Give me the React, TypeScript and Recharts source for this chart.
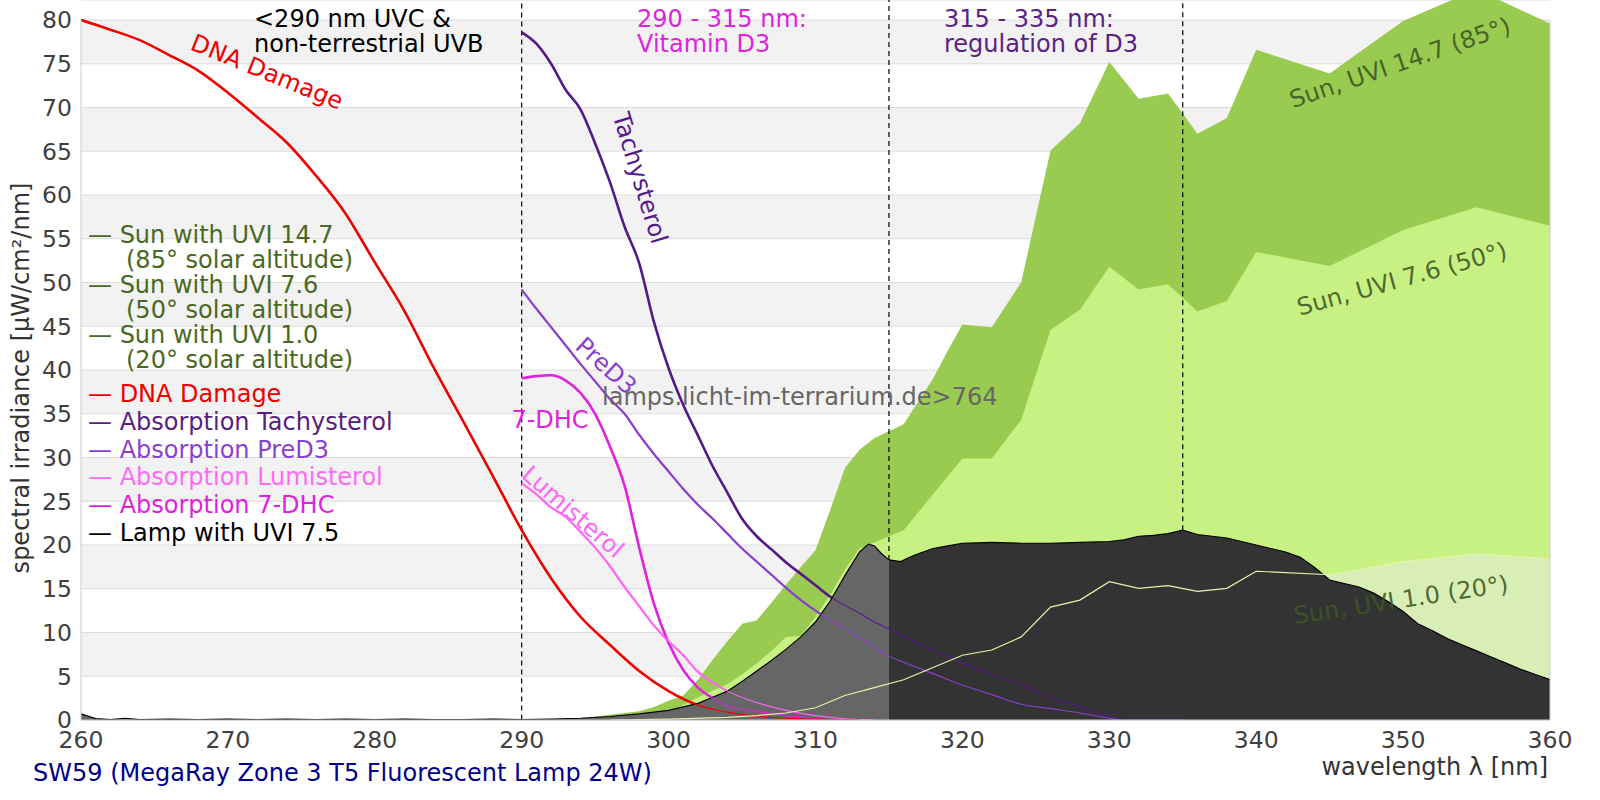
import React from 'react';
import { ComposedChart, Area, Line, XAxis, YAxis, CartesianGrid, ReferenceLine } from 'recharts';

const FONT = '"DejaVu Sans", sans-serif';

// wavelength [nm] / spectral irradiance [µW/cm²/nm]
const sun147Nm = [292, 294, 296, 298, 299, 300, 301, 302, 303, 304, 305, 306, 307, 308, 309, 310, 311, 312, 313, 314, 315, 316, 317, 318, 319, 320, 322, 324, 326, 328, 330, 332, 334, 336, 338, 340, 345, 350, 355, 360];
const sun147Val = [0, 0.2, 0.6, 1.0, 1.5, 2.2, 2.8, 4.6, 6.9, 9.0, 11.0, 11.4, 13.4, 15.5, 17.5, 19.4, 24.0, 28.8, 30.9, 32.2, 33.0, 33.8, 36.4, 39.0, 42.2, 45.2, 44.9, 50.0, 65.1, 68.2, 75.2, 71.0, 71.6, 67.0, 68.8, 76.6, 73.9, 79.9, 83.5, 79.6];

const sun76Nm = [294, 296, 298, 300, 302, 304, 305, 306, 307, 308, 309, 310, 311, 312, 313, 314, 315, 316, 318, 320, 322, 324, 326, 328, 330, 332, 334, 336, 338, 340, 345, 350, 355, 360];
const sun76Val = [0, 0.1, 0.3, 0.8, 2.6, 4.1, 5.2, 6.5, 7.9, 9.5, 9.6, 11.8, 14.3, 17.2, 19.6, 20.3, 21.0, 21.7, 25.8, 29.9, 29.9, 34.3, 44.6, 46.9, 51.8, 49.2, 49.8, 46.7, 47.9, 53.5, 51.9, 56.0, 58.6, 56.5];

const sun10Nm = [296, 300, 304, 306, 308, 310, 312, 314, 316, 318, 320, 322, 324, 326, 328, 330, 332, 334, 336, 338, 340, 345, 350, 355, 360];
const sun10Val = [0, 0.1, 0.3, 0.5, 0.8, 1.4, 2.8, 3.7, 4.6, 6.0, 7.4, 8.0, 9.5, 12.9, 13.7, 15.8, 15.05, 15.35, 14.7, 15.05, 17.0, 16.6, 18.1, 19.0, 18.4];

const lampNm = [260, 261, 262, 263, 264, 266, 268, 270, 272, 274, 276, 278, 280, 282, 284, 286, 288, 290, 292, 294, 296, 298, 300, 301, 302, 303, 304, 305, 306, 307, 308, 309, 310, 311, 312, 313, 313.6, 314, 314.5, 315, 315.8, 316.4, 317, 318, 319, 320, 322, 324, 326, 328, 330, 331, 332, 333, 334, 335, 336, 337, 338, 339, 340, 341, 342, 343, 344, 345, 346, 347, 348, 349, 350, 351, 352, 353, 354, 355, 356, 357, 358, 359, 360];
const lampVal = [0.7, 0.15, 0.05, 0.2, 0.05, 0.1, 0.05, 0.1, 0.05, 0.1, 0.05, 0.1, 0.05, 0.1, 0.05, 0.05, 0.1, 0.05, 0.1, 0.2, 0.4, 0.7, 1.1, 1.5, 1.9, 2.6, 3.3, 4.4, 5.6, 6.8, 8.1, 9.5, 11.2, 13.6, 16.5, 19.2, 20.1, 19.9, 19.0, 18.3, 18.1, 18.6, 19.0, 19.6, 19.9, 20.2, 20.3, 20.2, 20.2, 20.3, 20.4, 20.6, 21.0, 21.1, 21.3, 21.7, 21.2, 21.0, 20.8, 20.4, 20.0, 19.6, 19.2, 18.6, 17.4, 16.0, 15.6, 15.2, 14.5, 13.5, 12.4, 11.0, 10.2, 9.3, 8.6, 7.9, 7.2, 6.5, 5.8, 5.2, 4.6];

const dnaNm = [260, 262, 264, 266, 268, 270, 272, 274, 276, 278, 280, 282, 284, 286, 288, 290, 292, 294, 296, 298, 300, 302, 304, 306, 308, 310, 313];
const dnaVal = [80.0, 78.9, 77.7, 76.0, 74.2, 71.7, 68.9, 66.0, 62.2, 57.9, 52.3, 46.8, 40.3, 34.2, 28.0, 21.7, 16.2, 11.8, 8.6, 5.6, 3.3, 1.7, 0.9, 0.45, 0.2, 0.1, 0];

const tachyNm = [290, 291, 292, 293, 294, 295, 296, 297, 298, 299, 300, 301, 302, 303, 304, 305, 306, 307, 308, 309, 310, 311, 312, 313, 314, 315, 316, 318, 320, 322, 324, 326, 328, 330, 331];
const tachyVal = [78.6, 77.3, 75.0, 72.0, 69.8, 65.9, 61.5, 56.4, 52.2, 45.5, 40.2, 36.0, 32.5, 29.0, 26.0, 23.0, 21.0, 19.5, 18.0, 16.7, 15.4, 14.1, 13.1, 12.2, 11.2, 10.4, 9.6, 8.0, 6.5, 5.2, 4.1, 2.6, 1.5, 0.4, 0];

const preD3Nm = [290, 291, 292, 293, 294, 295, 296, 297, 298, 299, 300, 301, 302, 303, 304, 305, 306, 307, 308, 309, 310, 311, 312, 313, 314, 315, 316, 318, 320, 322, 324, 326, 328, 330, 331, 335];
const preD3Val = [49.2, 47.0, 44.9, 42.8, 40.7, 38.7, 36.7, 35.0, 32.6, 30.4, 28.4, 26.4, 24.6, 23.0, 21.3, 19.6, 18.1, 16.6, 15.1, 13.7, 12.5, 11.4, 10.5, 9.4, 8.3, 7.3, 6.6, 5.3, 4.0, 2.9, 1.8, 1.3, 0.8, 0.2, 0, 0];

const lumiNm = [290, 291, 292, 293, 294, 295, 296, 297, 298, 299, 300, 301, 302, 303, 304, 306, 308, 310, 312, 314];
const lumiVal = [27.05, 25.8, 24.3, 23.2, 21.5, 19.7, 17.6, 15.2, 13.0, 10.8, 9.0, 7.4, 5.5, 4.3, 3.3, 2.0, 1.1, 0.5, 0.15, 0];

const dhcNm = [290, 291, 292, 293, 294, 295, 296, 297, 298, 299, 300, 301, 302, 303, 304, 306, 308, 310, 312];
const dhcVal = [39.05, 39.3, 39.4, 38.8, 37.4, 35.0, 31.3, 26.8, 19.7, 13.3, 8.8, 5.7, 3.7, 2.5, 1.6, 1.0, 0.5, 0.15, 0];

const X_TICKS = [260, 270, 280, 290, 300, 310, 320, 330, 340, 350, 360];
const Y_TICKS = [0, 5, 10, 15, 20, 25, 30, 35, 40, 45, 50, 55, 60, 65, 70, 75, 80];
const Y_TOP = 82.29;
const BAND_EDGES = [290, 315, 335];

const SUN_LEGEND = [
  ['— Sun with UVI 14.7', '(85° solar altitude)'],
  ['— Sun with UVI 7.6', '(50° solar altitude)'],
  ['— Sun with UVI 1.0', '(20° solar altitude)'],
];
const CURVE_LEGEND = [
  { text: '— DNA Damage', color: '#ee0000' },
  { text: '— Absorption Tachysterol', color: '#58207f' },
  { text: '— Absorption PreD3', color: '#8b3fcf' },
  { text: '— Absorption Lumisterol', color: '#ff6af7' },
  { text: '— Absorption 7-DHC', color: '#e022e0' },
  { text: '— Lamp with UVI 7.5', color: '#000000' },
];

const C = {
  sun147: '#99cb50',
  sun76: '#c8f184',
  sun10: '#d9eeb6',
  sun10Line: '#e4f4aa',
  lampUvb: '#666666',
  lamp: '#333333',
  dna: '#f00000',
  tachy: '#551a8b',
  preD3: '#8b3fcf',
  lumi: '#ff66f7',
  dhc: '#e022e0',
  sunText: '#4b6823',
};

const pts = (nm: number[], val: number[]) => nm.map((x, i) => ({ x, y: val[i] }));

const sun147 = pts(sun147Nm, sun147Val);
const sun76 = pts(sun76Nm, sun76Val);
const sun10 = pts(sun10Nm, sun10Val);
const lamp = pts(lampNm, lampVal);
const lampUvb = lamp.filter((p) => p.x <= 315);
const lampUva = lamp.filter((p) => p.x >= 315);
const dna = pts(dnaNm, dnaVal);
const tachy = pts(tachyNm, tachyVal);
const preD3 = pts(preD3Nm, preD3Val);
const lumi = pts(lumiNm, lumiVal);
const dhc = pts(dhcNm, dhcVal);

const lampAt = (nm: number) => lampVal[lampNm.indexOf(nm)];

const CurveLabel = ({ x, y, angle = 0, color, size = 24, opacity = 1, children }: any) => (
  <text
    x={x}
    y={y}
    fill={color}
    fillOpacity={opacity}
    fontSize={size}
    textAnchor="middle"
    dominantBaseline="central"
    transform={`rotate(${angle} ${x} ${y})`}
  >
    {children}
  </text>
);

export default function App() {
  const tick = { fill: '#404040', fontSize: 23.5, fontFamily: FONT };
  const thick = [
    { data: dhc, color: C.dhc, w: 2.6 },
    { data: lumi, color: C.lumi, w: 2.2 },
    { data: preD3, color: C.preD3, w: 2.2 },
    { data: tachy, color: C.tachy, w: 2.6 },
    { data: dna, color: C.dna, w: 2.6 },
  ];

  return (
    <div style={{ position: 'relative', width: 1600, height: 800, fontFamily: FONT }}>
      <style>{'body{margin:0}'}</style>
      <ComposedChart width={1600} height={800} margin={{ top: 0, right: 50, bottom: 0, left: 0 }} style={{ fontFamily: FONT }}>
        <CartesianGrid vertical={false} stroke="#dcdcdc" horizontalFill={['#ffffff', '#f2f2f2']} />
        <XAxis
          type="number"
          dataKey="x"
          domain={[260, 360]}
          ticks={X_TICKS}
          interval={0}
          allowDataOverflow
          height={80}
          tickLine={false}
          tickSize={8}
          tickMargin={3}
          axisLine={{ stroke: '#cccccc' }}
          tick={tick}
        />
        <YAxis
          type="number"
          domain={[0, Y_TOP]}
          ticks={Y_TICKS}
          interval={0}
          allowDataOverflow
          width={81}
          axisLine={false}
          tickLine={false}
          tickSize={6}
          tickMargin={3}
          tick={tick}
        />

        <Area data={sun147} dataKey="y" type="linear" fill={C.sun147} fillOpacity={1} stroke="none" isAnimationActive={false} zIndex={100} />
        <Area data={sun76} dataKey="y" type="linear" fill={C.sun76} fillOpacity={1} stroke="none" isAnimationActive={false} zIndex={100} />
        <Area data={sun10} dataKey="y" type="linear" fill={C.sun10} fillOpacity={1} stroke="none" isAnimationActive={false} zIndex={100} />

        {BAND_EDGES.map((nm) => (
          <ReferenceLine
            key={nm}
            segment={[{ x: nm, y: lampAt(nm) }, { x: nm, y: Y_TOP }]}
            stroke="#000"
            strokeWidth={1.2}
            strokeDasharray="5 4"
            zIndex={105}
          />
        ))}

        {thick.map((s, i) => (
          <Line key={`thick-${i}`} data={s.data} dataKey="y" type="monotone" stroke={s.color} strokeWidth={s.w} dot={false} activeDot={false} isAnimationActive={false} zIndex={110} />
        ))}

        <Area data={lampUvb} dataKey="y" type="linear" fill={C.lampUvb} fillOpacity={1} stroke="#000" strokeWidth={1.2} isAnimationActive={false} zIndex={120} />
        <Area data={lampUva} dataKey="y" type="linear" fill={C.lamp} fillOpacity={1} stroke="#000" strokeWidth={1.2} isAnimationActive={false} zIndex={120} />

        {thick.map((s, i) => (
          <Line key={`thin-${i}`} data={s.data} dataKey="y" type="monotone" stroke={s.color} strokeWidth={1.1} dot={false} activeDot={false} isAnimationActive={false} zIndex={130} />
        ))}
        <Line data={sun10} dataKey="y" type="linear" stroke={C.sun10Line} strokeWidth={1.2} dot={false} activeDot={false} isAnimationActive={false} zIndex={130} />

        <ReferenceLine segment={[{ x: 260, y: 0 }, { x: 260, y: 80 }]} stroke="#cccccc" zIndex={130} />
        <ReferenceLine segment={[{ x: 360, y: 0 }, { x: 360, y: 80 }]} stroke="#cccccc" zIndex={130} />
      </ComposedChart>

      <svg width={1600} height={800} style={{ position: 'absolute', left: 0, top: 0, pointerEvents: 'none', fontFamily: FONT }}>
        {/* region notes */}
        <text fontSize={24} fill="#000">
          <tspan x={254} y={27}>{'<290 nm UVC &'}</tspan>
          <tspan x={254} y={52}>non-terrestrial UVB</tspan>
        </text>
        <text fontSize={24} fill={C.dhc}>
          <tspan x={637} y={27}>290 - 315 nm:</tspan>
          <tspan x={637} y={52}>Vitamin D3</tspan>
        </text>
        <text fontSize={24} fill="#5b2187">
          <tspan x={944} y={27}>315 - 335 nm:</tspan>
          <tspan x={944} y={52}>regulation of D3</tspan>
        </text>

        {/* curve labels */}
        <CurveLabel x={267} y={72} angle={22} color={C.dna}>DNA Damage</CurveLabel>
        <CurveLabel x={640} y={178} angle={73} color={C.tachy}>Tachysterol</CurveLabel>
        <CurveLabel x={606} y={366} angle={42} color={C.preD3}>PreD3</CurveLabel>
        <CurveLabel x={550} y={420} color={C.dhc}>7-DHC</CurveLabel>
        <CurveLabel x={573} y={512} angle={41} color={C.lumi}>Lumisterol</CurveLabel>
        <CurveLabel x={1400} y={63} angle={-19} color="#3e5622" opacity={0.9}>Sun, UVI 14.7 (85°)</CurveLabel>
        <CurveLabel x={1402} y={279} angle={-15.5} color="#3e5622" opacity={0.9}>Sun, UVI 7.6 (50°)</CurveLabel>
        <CurveLabel x={1401} y={600} angle={-8.5} color="#3e5622" opacity={0.9}>Sun, UVI 1.0 (20°)</CurveLabel>

        <text x={602} y={405} fontSize={24} fill="#666666">lamps.licht-im-terrarium.de&gt;764</text>

        {/* legend */}
        {SUN_LEGEND.map(([a, b], i) => (
          <g key={a} fontSize={24} fill={C.sunText}>
            <text x={88} y={243 + i * 50}>{a}</text>
            <text x={126} y={268 + i * 50}>{b}</text>
          </g>
        ))}
        {CURVE_LEGEND.map((l, i) => (
          <text key={l.text} x={88} y={402 + i * 27.8} fontSize={24} fill={l.color}>
            {l.text}
          </text>
        ))}

        {/* axis titles */}
        <text transform="rotate(-90)" x={-378} y={29} fontSize={24} fill="#333" textAnchor="middle">
          spectral irradiance [µW/cm²/nm]
        </text>
        <text x={1548} y={775} fontSize={24} fill="#333" textAnchor="end">
          wavelength λ [nm]
        </text>
        <text x={33} y={781} fontSize={24} fill="#00008b">
          SW59 (MegaRay Zone 3 T5 Fluorescent Lamp 24W)
        </text>
      </svg>
    </div>
  );
}
